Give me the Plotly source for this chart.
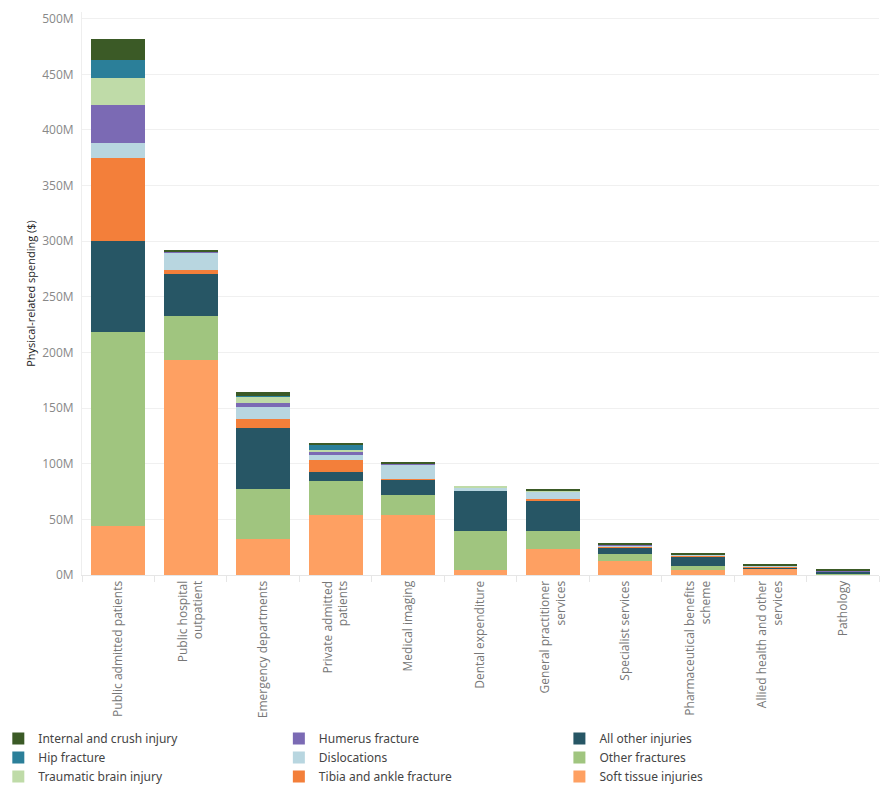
import plotly.graph_objects as go

categories = [
    "Public admitted patients",
    "Public hospital<br>outpatient",
    "Emergency departments",
    "Private admitted<br>patients",
    "Medical imaging",
    "Dental expenditure",
    "General practitioner<br>services",
    "Specialist services",
    "Pharmaceutical benefits<br>scheme",
    "Allied health and other<br>services",
    "Pathology",
]

# values in millions of dollars (bottom of stack first)
soft_tissue = [44, 193.5, 32.4, 54, 54, 4.5, 23.4, 12.6, 4.5, 5.4, 0.3]
other_fractures = [174.5, 39.5, 45, 30.5, 18, 35, 16, 6.3, 3.6, 0.8, 0.9]
all_other = [81.5, 37.5, 55, 8, 13.4, 36, 28, 5.4, 8.1, 0.9, 1.8]
tibia_ankle = [75, 3.6, 8.1, 10.8, 0.9, 0, 0.9, 0.9, 0.9, 0.9, 0]
dislocations = [13, 15.3, 10.8, 4.5, 12.6, 3, 7, 1.2, 0.9, 0.4, 0]
humerus = [34, 0.9, 3.6, 3.6, 0.9, 0, 0, 0.9, 0, 0, 0.9]
traumatic_brain = [25, 0.4, 5.4, 0.9, 0, 1.5, 1, 0.3, 0.3, 0, 0]
hip = [16, 0.3, 0.5, 5.4, 0, 0, 0, 0.2, 0, 0, 0]
internal_crush = [19, 0.9, 3.6, 0.9, 0.9, 0, 0.9, 0.9, 0.9, 0.6, 0.9]

tick_vals = [0, 50, 100, 150, 200, 250, 300, 350, 400, 450, 500]
tick_text = ["0M", "50M", "100M", "150M", "200M", "250M", "300M", "350M", "400M", "450M", "500M"]

series = [
    ("Soft tissue injuries", soft_tissue, "#FEA062", "legend3"),
    ("Other fractures", other_fractures, "#A0C57F", "legend3"),
    ("All other injuries", all_other, "#275665", "legend3"),
    ("Tibia and ankle fracture", tibia_ankle, "#F37F3A", "legend2"),
    ("Dislocations", dislocations, "#B8D6E0", "legend2"),
    ("Humerus fracture", humerus, "#7B6AB4", "legend2"),
    ("Traumatic brain injury", traumatic_brain, "#BFDBA8", "legend"),
    ("Hip fracture", hip, "#2B7F99", "legend"),
    ("Internal and crush injury", internal_crush, "#3B5A26", "legend"),
]

fig = go.Figure()
for name, vals, color, leg in series:
    fig.add_trace(go.Bar(
        x=categories, y=vals, name=name, legend=leg, legendgroup=name,
        marker=dict(color=color, line=dict(width=0)),
    ))

legend_common = dict(
    orientation="v", yanchor="top", y=-0.2645, xanchor="left",
    traceorder="reversed", font=dict(family="Noto Sans", size=12, color="#444"),
    itemwidth=30, bgcolor="rgba(0,0,0,0)", tracegroupgap=1,
)

fig.update_layout(
    width=891, height=800,
    margin=dict(l=82, r=12, t=12, b=225, autoexpand=False),
    barmode="stack", bargap=0.255,
    plot_bgcolor="white", paper_bgcolor="white",
    font=dict(family="Open Sans", size=12, color="#777"),
    showlegend=True,
    legend=dict(legend_common, x=-0.105),
    legend2=dict(legend_common, x=0.247),
    legend3=dict(legend_common, x=0.599),
    xaxis=dict(
        type="category", tickangle=-90, tickson="boundaries",
        ticks="outside", ticklen=6, tickcolor="#e6e6e6",
        showline=True, linecolor="#e6e6e6", linewidth=1,
        showgrid=False, tickfont=dict(family="Open Sans", size=12, color="#777"),
    ),
    yaxis=dict(
        range=[0, 506], tickvals=tick_vals, ticktext=tick_text,
        showgrid=True, gridcolor="#f0f0f0", gridwidth=1,
        zeroline=False, showline=True, linecolor="#eeeeee",
        ticks="", ticklabelstandoff=5,
        tickfont=dict(family="Open Sans", size=12, color="#888"),
        title=dict(text="Physical-related spending ($)", standoff=4,
                   font=dict(family="Open Sans", size=11, color="#222")),
    ),
)

fig.write_html("out.html")
